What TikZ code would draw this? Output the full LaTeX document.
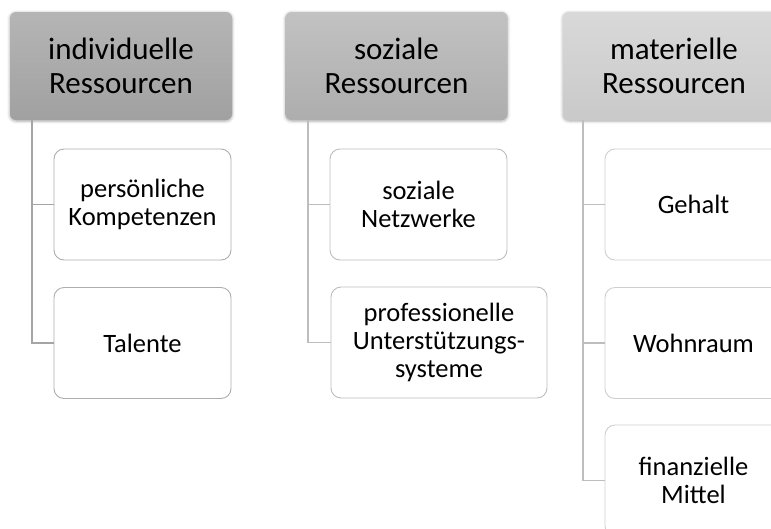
\documentclass[tikz,border=0pt]{standalone}
\usepackage{fontspec}
\setmainfont{Carlito}
\usetikzlibrary{shadows.blur}
\definecolor{hAtop}{gray}{0.71}\definecolor{hAbot}{gray}{0.63}
\definecolor{hBtop}{gray}{0.76}\definecolor{hBbot}{gray}{0.68}
\definecolor{hCtop}{gray}{0.85}\definecolor{hCbot}{gray}{0.79}
\definecolor{bA}{gray}{0.68}\definecolor{bB}{gray}{0.74}\definecolor{bC}{gray}{0.81}
\tikzset{
  head/.style={rounded corners=6pt, minimum width=222pt, minimum height=108pt,
    inner sep=0pt, align=center, font=\fontsize{31}{34}\selectfont,
    blur shadow={shadow xshift=0pt, shadow yshift=-1pt, shadow blur radius=3pt, shadow opacity=35}},
  child/.style={draw, rounded corners=10pt, fill=white, line width=0.9pt,
    minimum height=111pt, inner sep=0pt, align=center,
    font=\fontsize{26.5}{28}\selectfont},
  conn/.style={line width=1.2pt}
}
\begin{document}
\begin{tikzpicture}[x=1pt,y=-1pt]
\useasboundingbox (0,0) rectangle (771,528);
\clip (0,0) rectangle (771,528);
% headers
\node[head, top color=hAtop, bottom color=hAbot] (h1) at (121,66) {individuelle\\Ressourcen};
\node[head, top color=hBtop, bottom color=hBbot] (h2) at (396.5,66) {soziale\\Ressourcen};
\node[head, top color=hCtop, bottom color=hCbot] (h3) at (674,66) {materielle\\Ressourcen};
% group 1
\node[child, draw=bA, minimum width=177pt] (c11) at (142.5,204.5) {persönliche\\Kompetenzen};
\node[child, draw=bA, minimum width=177pt] (c12) at (142.5,343) {Talente};
\coordinate (v1) at (32,120);
\draw[conn, draw=bA!95!black] (v1) |- (c12.west);
\draw[conn, draw=bA!95!black] (v1 |- c11.west) -- (c11.west);
% group 2
\node[child, draw=bB, minimum width=177pt] (c21) at (418.5,204.5) {soziale\\Netzwerke};
\node[child, draw=bB, minimum width=216pt] (c22) at (439,342.5) {professionelle\\Unterstützungs-\\systeme};
\coordinate (v2) at (308,120);
\draw[conn, draw=bB] (v2) |- (c22.west);
\draw[conn, draw=bB] (v2 |- c21.west) -- (c21.west);
% group 3
\node[child, draw=bC, minimum width=177pt] (c31) at (693.5,204.5) {Gehalt};
\node[child, draw=bC, minimum width=177pt] (c32) at (693.5,343) {Wohnraum};
\node[child, draw=bC, minimum width=177pt] (c33) at (693.5,480.5) {finanzielle\\Mittel};
\coordinate (v3) at (583,120);
\draw[conn, draw=bC!92!black] (v3) |- (c33.west);
\draw[conn, draw=bC!92!black] (v3 |- c31.west) -- (c31.west);
\draw[conn, draw=bC!92!black] (v3 |- c32.west) -- (c32.west);
\end{tikzpicture}
\end{document}
